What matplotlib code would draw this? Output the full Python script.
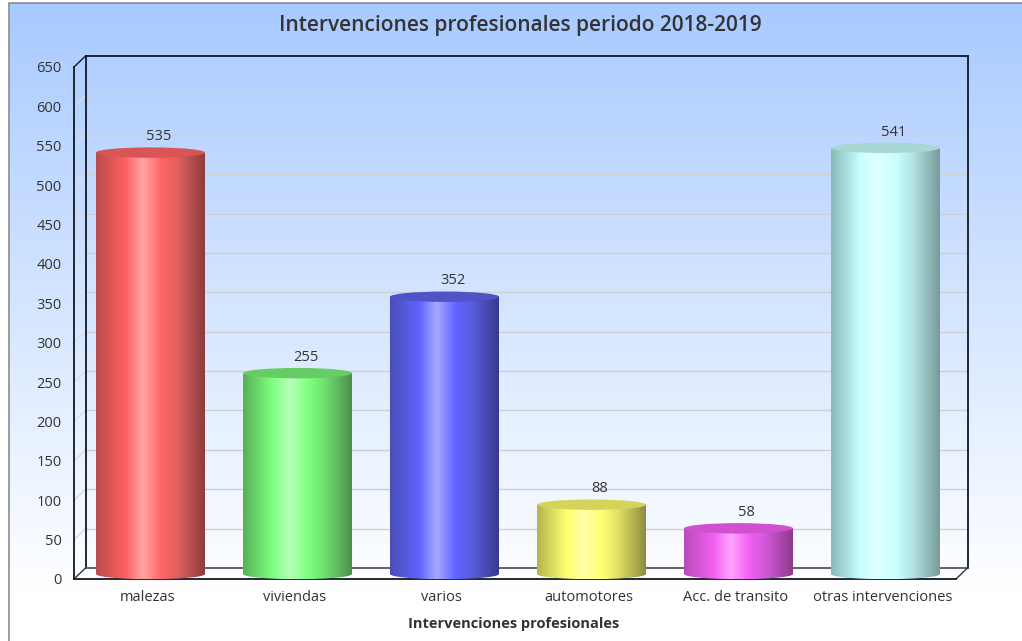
import numpy as np
import matplotlib
matplotlib.use("Agg")
import matplotlib.pyplot as plt
from matplotlib.colors import LinearSegmentedColormap
from matplotlib.patches import Ellipse, PathPatch
from matplotlib.path import Path

plt.rcParams['font.family'] = ['Open Sans', 'DejaVu Sans']

categories = ["malezas", "viviendas", "varios", "automotores", "Acc. de transito", "otras intervenciones"]
values = [535, 255, 352, 88, 58, 541]
y_ticks = list(range(0, 651, 50))

# side, bright, centre, bright, mid, side colours of each cylinder, then lid
bar_colors = [
    ["#b84c4c", "#ff6060", "#ffa4a4", "#ff6464", "#e26060", "#8c3c3c", "#d95555"],
    ["#56b056", "#80ff80", "#b8ffb8", "#80ff80", "#70e070", "#4a904a", "#66cc66"],
    ["#4a4eb8", "#6064ff", "#a8aaff", "#6064ff", "#5a5ee0", "#38398c", "#5053c8"],
    ["#b4b44c", "#ffff70", "#ffffa8", "#ffff70", "#e0e064", "#8c8c40", "#d4d45a"],
    ["#b84cb8", "#f060f0", "#ff a4ff".replace(" ", ""), "#f060f0", "#d058d8", "#8c3c8c", "#d050d0"],
    ["#8ababa", "#c8ffff", "#e0ffff", "#c8ffff", "#b4e4e4", "#789a9a", "#a8d8d4"],
]
stops = [0.0, 0.27, 0.43, 0.60, 0.75, 1.0]

W, H = 1022, 641
fig = plt.figure(figsize=(W / 100, H / 100), dpi=100)

# page background with the vertical blue fade
bg = fig.add_axes([0, 0, 1, 1])
bg.set_xlim(0, W)
bg.set_ylim(H, 0)
bg.axis("off")
fade = LinearSegmentedColormap.from_list("fade", ["#a8caff", "#ffffff"])
bg.imshow(np.linspace(0, 1, 256).reshape(-1, 1), cmap=fade, aspect="auto", extent=[9, W, 590, 3], zorder=0)
bg.plot([8.5, 8.5, W], [H, 2.5, 2.5], color="#8c8c8c", lw=1.2, zorder=1)

# front plane of the box: 74..956 px wide, 67..579 px high
ax = fig.add_axes([74 / W, 1 - 579 / H, 882 / W, 512 / H])
ax.set_xlim(-0.5, 5.5)
ax.set_ylim(0, 650)
ax.patch.set_alpha(0)
for s in ax.spines.values():
    s.set_visible(False)
ax.tick_params(length=0)
ax.set_xticks(range(len(categories)))
ax.set_xticklabels(categories, fontsize=10.5, color="#333333")
ax.set_yticks(y_ticks)
ax.set_yticklabels([str(v) for v in y_ticks], fontsize=10.5, color="#333333")
ax.tick_params(axis="x", pad=8)
ax.tick_params(axis="y", pad=9)

# depth of the box in data units
dx = 11.5 / 147
dy = 11.0 * 650 / 512


def box_line(xs, ys, **kw):
    ax.plot(xs, ys, clip_on=False, solid_capstyle="projecting", **kw)


for v in y_ticks[1:-1]:
    box_line([-0.5, -0.5 + dx], [v, v + dy], color="#dcdcdc", lw=1, zorder=1)
    box_line([-0.5 + dx, 5.5 + dx], [v + dy, v + dy], color="#cfcfcf", lw=1, zorder=1)

box_line([-0.5 + dx, 5.5 + dx], [650 + dy, 650 + dy], color="#101822", lw=1.3, zorder=2)
box_line([-0.5 + dx, -0.5 + dx], [dy, 650 + dy], color="#101822", lw=1.3, zorder=2)
box_line([5.5 + dx, 5.5 + dx], [dy, 650 + dy], color="#101822", lw=1.3, zorder=2)
box_line([-0.5 + dx, 5.5 + dx], [dy, dy], color="#555555", lw=1.3, zorder=2)
box_line([-0.5, -0.5], [0, 650], color="#101822", lw=1.3, zorder=2)
box_line([-0.5, -0.5 + dx], [650, 650 + dy], color="#101822", lw=1, zorder=2)
box_line([-0.5, -0.5 + dx], [0, dy], color="#333333", lw=1, zorder=2)
box_line([5.5, 5.5 + dx], [0, dy], color="#333333", lw=1, zorder=2)
box_line([-0.5, 5.5], [0, 0], color="#101822", lw=1.3, zorder=2)

bar_w = 109 / 147
shift = 3 / 147
base = 5 * 650 / 512
cap = 5.2 * 650 / 512
for i, v in enumerate(values):
    cols = bar_colors[i]
    cmap = LinearSegmentedColormap.from_list(f"c{i}", list(zip(stops, cols[:6])))
    x0 = i + shift - bar_w / 2
    x1 = i + shift + bar_w / 2
    top = v + base
    # outline of the cylinder: flat sides, rounded foot
    ts = np.linspace(np.pi, 2 * np.pi, 40)
    foot_x = i + shift + np.cos(ts) * bar_w / 2
    foot_y = base + np.sin(ts) * cap
    verts = [(x0, top)] + list(zip(foot_x, foot_y)) + [(x1, top), (x0, top)]
    clip = PathPatch(Path(verts), transform=ax.transData, fc="none", ec="none")
    ax.add_patch(clip)
    im = ax.imshow(np.linspace(0, 1, 256).reshape(1, -1), cmap=cmap, aspect="auto",
                   extent=[x0, x1, 0, top], zorder=3)
    im.set_clip_path(clip)
    ax.add_patch(Ellipse((i + shift, top), bar_w, cap * 2, fc=cols[6], ec="none", zorder=4))
    ax.text(i + 8 / 147 + shift, top + cap + 4, str(v), ha="center", va="bottom",
            fontsize=10.5, color="#333333", zorder=5)
ax.set_xlim(-0.5, 5.5)
ax.set_ylim(0, 650)

fig.text(520 / W, 1 - 26 / H, "Intervenciones profesionales periodo 2018-2019", ha="center", va="center",
         fontsize=15, fontweight="semibold", color="#333333")
fig.text(514 / W, 1 - 624 / H, "Intervenciones profesionales", ha="center", va="center",
         fontsize=10.5, fontweight="bold", color="#333333")

fig.savefig("out.png", dpi=100)
